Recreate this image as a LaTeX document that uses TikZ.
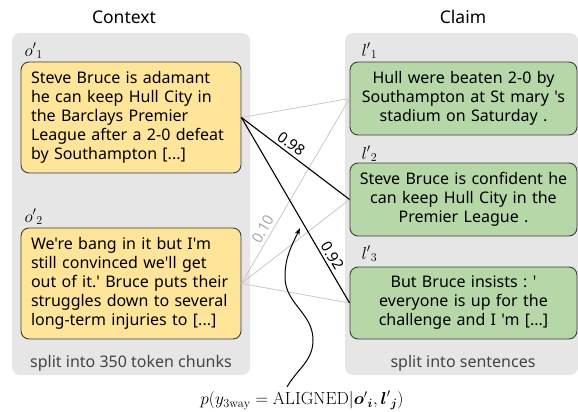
\documentclass[tikz,border=0pt]{standalone}
\usepackage{amsmath,amssymb}
\usepackage{fontspec}
\usetikzlibrary{arrows.meta}
\newfontfamily\notosans{Noto Sans}
\definecolor{ctxyellow}{HTML}{FFE599}
\definecolor{clmgreen}{HTML}{B6D7A8}
\definecolor{panelgray}{HTML}{E6E6E6}
\definecolor{edgegray}{HTML}{C8C8C8}
\definecolor{boxline}{HTML}{3C3C3C}
\definecolor{notegray}{HTML}{444444}
\frenchspacing

\tikzset{
  panel/.style={fill=panelgray, rounded corners=8pt},
  chunk/.style={draw=boxline, line width=0.9pt, rounded corners=8pt, inner ysep=0pt,
    font=\notosans\fontsize{16}{19}\selectfont},
  ctxbox/.style={chunk, fill=ctxyellow, inner xsep=10pt, text width=200pt, align=left, minimum height=111pt},
  clmbox/.style={chunk, fill=clmgreen, inner xsep=4pt, text width=219pt, align=center},
  head/.style={font=\notosans\fontsize{17.5}{20}\selectfont},
  note/.style={font=\notosans\fontsize{16}{19}\selectfont, text=notegray},
  idx/.style={anchor=west, font=\fontsize{18}{20}\selectfont},
  weak/.style={draw=edgegray, line width=0.8pt},
  strong/.style={draw=black, line width=1.1pt},
  score/.style={font=\notosans\fontsize{15}{17}\selectfont, sloped, above, inner sep=3pt}
}

\begin{document}
\begin{tikzpicture}[x=1pt,y=-1pt]
\useasboundingbox (0,0) rectangle (578,412);

% the two panels
\fill[panel] (12,33) rectangle (250,375);
\fill[panel] (345,33) rectangle (578,375);

\node[head] (ctxhead) at (124,17) {Context};
\node[head] (clmhead) at (463,17) {Claim};

% context chunks
\node[idx] (o1lab) at (21,51) {${o'}_1$};
\node[ctxbox] (o1) at (131,117.5) {Steve Bruce is adamant\\ he can keep Hull City in\\ the Barclays Premier\\ League after a 2-0 defeat\\ by Southampton [...]};
\node[idx] (o2lab) at (21,217) {${o'}_2$};
\node[ctxbox] (o2) at (131,283.5) {We're bang in it but I'm\\ still convinced we'll get\\ out of it.' Bruce puts their\\ struggles down to several\\ long-term injuries to [...]};
\node[note] (ctxnote) at (131,363) {split into 350 token chunks};

% claim sentences
\node[idx] (l1lab) at (358,51) {${l'}_1$};
\node[clmbox, minimum height=73pt] (l1) at (463.5,98.5) {Hull were beaten 2-0 by\\ Southampton at St mary 's\\ stadium on Saturday .};
\node[idx] (l2lab) at (358,154) {${l'}_2$};
\node[clmbox, minimum height=73pt] (l2) at (463.5,199.5) {Steve Bruce is confident he\\ can keep Hull City in the\\ Premier League .};
\node[idx] (l3lab) at (358,254) {${l'}_3$};
\node[clmbox, minimum height=72pt] (l3) at (463.5,303) {But Bruce insists : '\\ everyone is up for the\\ challenge and I 'm [...]};
\node[note] (clmnote) at (463,363) {split into sentences};

% alignment scores
\draw[weak] (o1.east) -- (l1.west);
\draw[weak] (o2.east) -- node[score, pos=0.27, text=edgegray!85!black] {0.10} (l1.west);
\draw[weak] (o2.east) -- (l2.west);
\draw[weak] (o2.east) -- (l3.west);
\draw[strong] (o1.east) -- node[score, pos=0.41] {0.98} (l2.west);
\draw[strong] (o1.east) -- node[score, pos=0.77] {0.92} (l3.west);

\node[font=\fontsize{17.5}{20}\selectfont] (prob) at (302,400) {$p(y_{\mathrm{3way}} = \mathrm{ALIGNED} | {\boldsymbol{o}'}_{\boldsymbol{i}}, {\boldsymbol{l}'}_{\boldsymbol{j}})$};
\coordinate (tip) at (300,228);
\draw[line width=1pt, -{Stealth[length=7pt,width=5pt]}] ([xshift=-15pt]prob.north) to[out=60,in=-90] (313,340) to[out=90,in=-90] (285,277) to[out=90,in=-115] (tip);
\end{tikzpicture}
\end{document}
